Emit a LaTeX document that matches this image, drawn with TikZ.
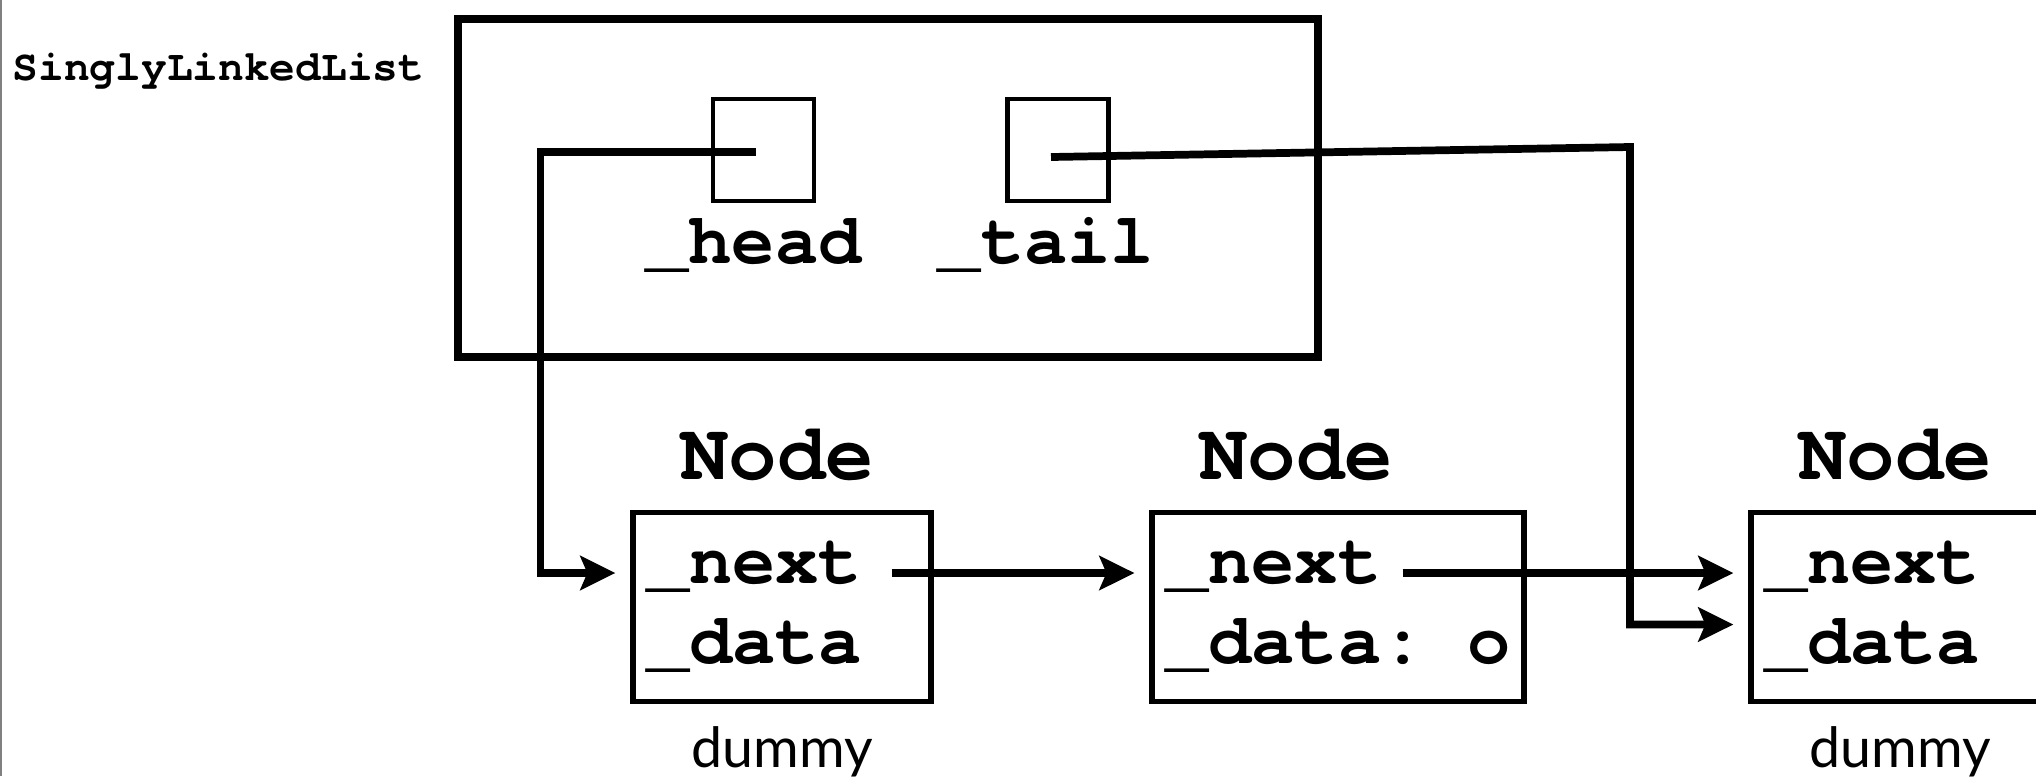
\documentclass[tikz,border=0pt]{standalone}
\usepackage{fontspec}
\setmonofont{TeX Gyre Cursor}
\newfontfamily\notefont{Lato}
\usetikzlibrary{arrows.meta}

\begin{document}
\begin{tikzpicture}[>={Stealth[length=3.5mm,width=3.4mm,inset=0.7mm]}, node distance=5.6cm,
    cell/.style={draw, line width=1.5pt, align=left, inner sep=0.13cm, minimum height=1.89cm,
        font=\ttfamily\bfseries\fontsize{20.5}{22.8}\selectfont},
    slot/.style={draw, line width=1.3pt, minimum width=1.01cm, minimum height=1.02cm, inner sep=0pt},
    field/.style={inner sep=0pt, font=\ttfamily\bfseries\fontsize{20.5}{22.8}\selectfont},
    classname/.style={inner sep=0pt, font=\ttfamily\bfseries\fontsize{23}{27}\selectfont},
    note/.style={inner sep=0pt, font=\notefont\fontsize{15.8}{18}\selectfont},
    link/.style={->, line width=2.2pt, shorten >=0.15cm}]
    \useasboundingbox (0,-7.76) rectangle (20.36,0);
    \clip (0,-7.76) rectangle (20.36,0);
    \draw[gray, line width=0.015cm] (0.0075,0) -- (0.0075,-7.76);

    \node[inner sep=0pt, anchor=base west, font=\ttfamily\bfseries\fontsize{12.2}{14}\selectfont] (sll) at (0.12,-0.80) {SinglyLinkedList};
    \node[draw, line width=2.2pt, minimum width=8.6cm, minimum height=3.38cm] (list) at (8.88,-1.88) {};
    \node[slot] (head) at (7.635,-1.5) {};
    \node[slot] (tail) at (10.58,-1.5) {};
    \node[field, anchor=base] (headname) at ([xshift=-0.1cm,yshift=-0.6cm]head.south) {\_head};
    \node[field, anchor=base] (tailname) at ([xshift=-0.12cm,yshift=-0.6cm]tail.south) {\_tail};

    \node[cell, text width=2.72cm] (n1) at (7.82,-6.07) {\_next\\\_data};
    \node[cell] (n2) [right of=n1, xshift=-0.04cm] {\_next\\\_data: o};
    \node[cell, text width=2.72cm] (n3) [right of=n2, xshift=0.02cm] {\_next\\\_data};

    \node[classname, anchor=base west] (n1name) at ([xshift=0.49cm,yshift=0.3cm]n1.north west) {Node};
    \node[classname, anchor=base west] (n2name) at ([xshift=0.49cm,yshift=0.3cm]n2.north west) {Node};
    \node[classname, anchor=base west] (n3name) at ([xshift=0.49cm,yshift=0.3cm]n3.north west) {Node};
    \node[note, anchor=base] (n1note) at ([yshift=-0.63cm]n1.south) {dummy};
    \node[note, anchor=base] (n3note) at ([yshift=-0.63cm]n3.south) {dummy};

    \coordinate (bend) at (16.30,-1.47);
    \draw[link] ([xshift=-0.08cm,yshift=-0.02cm]head.center) -| ([xshift=-0.9cm,yshift=0.34cm]n1.west) -- ([yshift=0.34cm]n1.west);
    \draw[link] ([xshift=-0.07cm,yshift=-0.07cm]tail.center) -- (bend) |- ([yshift=-0.175cm]n3.west);
    \draw[link] ([xshift=-0.42cm,yshift=0.34cm]n1.east) -- ([yshift=0.34cm]n2.west);
    \draw[link] ([xshift=-1.24cm,yshift=0.34cm]n2.east) -- ([yshift=0.34cm]n3.west);
\end{tikzpicture}
\end{document}
